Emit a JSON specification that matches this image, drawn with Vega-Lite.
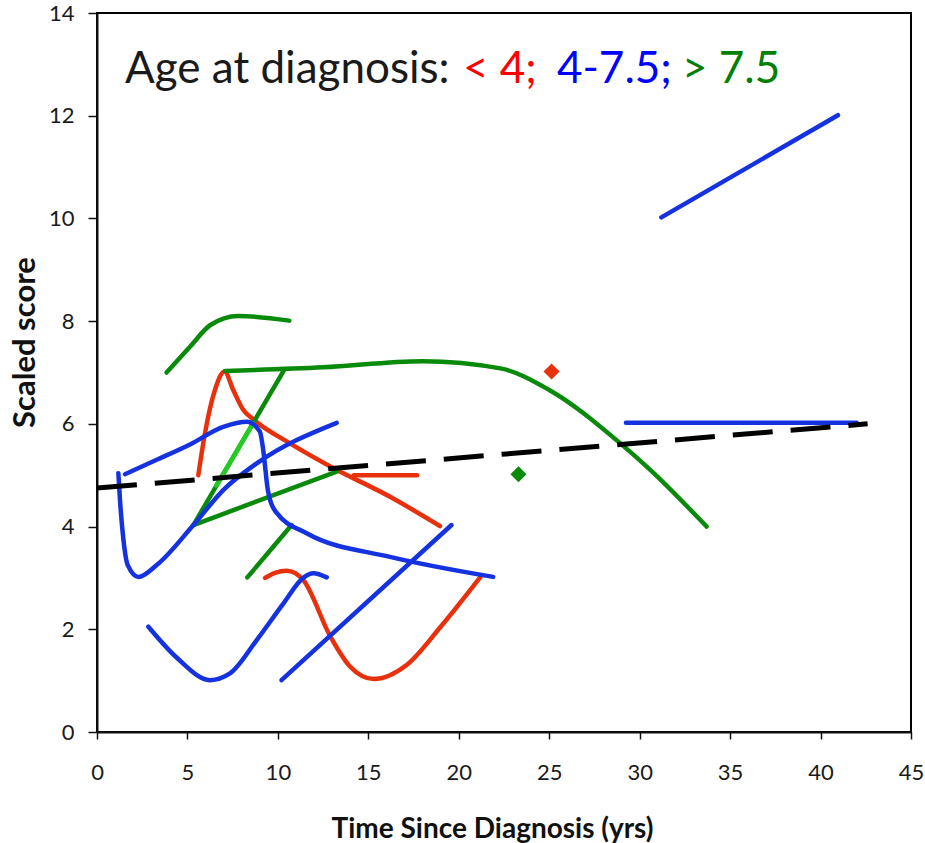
{
  "$schema": "https://vega.github.io/schema/vega-lite/v6.json",
  "width": 814,
  "height": 719,
  "autosize": "none",
  "padding": {"left": 97, "top": 13, "right": 14, "bottom": 111},
  "background": "white",
  "config": {
    "font": "Lato",
    "view": {"stroke": "black", "strokeWidth": 2},
    "axis": {
      "grid": false,
      "domainColor": "#111111",
      "domainWidth": 2,
      "tickColor": "#111111",
      "tickWidth": 1.5,
      "labelColor": "#1a1a1a",
      "labelFont": "Lato",
      "labelFontSize": 22,
      "labelOverlap": false,
      "labelFlush": false,
      "titleFont": "Lato",
      "titleColor": "#111111",
      "titleFontWeight": "bold"
    }
  },
  "datasets": {
    "lines": [
      {"s": "R1", "g": "lt4", "i": 1, "x": 5.6, "y": 5.0},
      {"s": "R1", "g": "lt4", "i": 2, "x": 5.97, "y": 5.82},
      {"s": "R1", "g": "lt4", "i": 3, "x": 6.52, "y": 6.66},
      {"s": "R1", "g": "lt4", "i": 4, "x": 7.05, "y": 7.02},
      {"s": "R1", "g": "lt4", "i": 5, "x": 7.53, "y": 6.66},
      {"s": "R1", "g": "lt4", "i": 6, "x": 8.09, "y": 6.27},
      {"s": "R1", "g": "lt4", "i": 7, "x": 8.6, "y": 6.1},
      {"s": "R1", "g": "lt4", "i": 8, "x": 10.67, "y": 5.62},
      {"s": "R1", "g": "lt4", "i": 9, "x": 12.9, "y": 5.17},
      {"s": "R1", "g": "lt4", "i": 10, "x": 16.2, "y": 4.58},
      {"s": "R1", "g": "lt4", "i": 11, "x": 18.96, "y": 4.01},
      {"s": "R2", "g": "lt4", "i": 12, "x": 14.2, "y": 5.0},
      {"s": "R2", "g": "lt4", "i": 13, "x": 17.7, "y": 5.0},
      {"s": "R3", "g": "lt4", "i": 14, "x": 9.29, "y": 3.0},
      {"s": "R3", "g": "lt4", "i": 15, "x": 9.84, "y": 3.1},
      {"s": "R3", "g": "lt4", "i": 16, "x": 10.5, "y": 3.14},
      {"s": "R3", "g": "lt4", "i": 17, "x": 11.4, "y": 2.96},
      {"s": "R3", "g": "lt4", "i": 18, "x": 12.9, "y": 1.86},
      {"s": "R3", "g": "lt4", "i": 19, "x": 14.0, "y": 1.27},
      {"s": "R3", "g": "lt4", "i": 20, "x": 15.3, "y": 1.03},
      {"s": "R3", "g": "lt4", "i": 21, "x": 17.1, "y": 1.3},
      {"s": "R3", "g": "lt4", "i": 22, "x": 19.0, "y": 2.05},
      {"s": "R3", "g": "lt4", "i": 23, "x": 21.2, "y": 3.02},
      {"s": "G1", "g": "gt75", "i": 25, "x": 3.85, "y": 7.0},
      {"s": "G1", "g": "gt75", "i": 26, "x": 5.14, "y": 7.5},
      {"s": "G1", "g": "gt75", "i": 27, "x": 6.25, "y": 7.92},
      {"s": "G1", "g": "gt75", "i": 28, "x": 7.8, "y": 8.1},
      {"s": "G1", "g": "gt75", "i": 30, "x": 10.63, "y": 8.01},
      {"s": "G2", "g": "gt75", "i": 31, "x": 7.08, "y": 7.03},
      {"s": "G2", "g": "gt75", "i": 32, "x": 12.5, "y": 7.1},
      {"s": "G2", "g": "gt75", "i": 33, "x": 18.0, "y": 7.22},
      {"s": "G2", "g": "gt75", "i": 35, "x": 22.3, "y": 7.08},
      {"s": "G2", "g": "gt75", "i": 36, "x": 25.0, "y": 6.66},
      {"s": "G2", "g": "gt75", "i": 38, "x": 28.9, "y": 5.63},
      {"s": "G2", "g": "gt75", "i": 39, "x": 30.6, "y": 5.1},
      {"s": "G2", "g": "gt75", "i": 41, "x": 33.7, "y": 4.0},
      {"s": "G3", "g": "gt75", "i": 42, "x": 5.33, "y": 4.03},
      {"s": "G3", "g": "gt75", "i": 43, "x": 10.3, "y": 7.02},
      {"s": "G4", "g": "gt75", "i": 44, "x": 5.33, "y": 4.03},
      {"s": "G4", "g": "gt75", "i": 45, "x": 13.25, "y": 5.07},
      {"s": "G5", "g": "gt75", "i": 46, "x": 8.31, "y": 3.01},
      {"s": "G5", "g": "gt75", "i": 47, "x": 10.76, "y": 4.03},
      {"s": "G6", "g": "light", "i": 48, "x": 6.6, "y": 4.8},
      {"s": "G6", "g": "light", "i": 49, "x": 8.64, "y": 6.01},
      {"s": "B1", "g": "mid", "i": 50, "x": 31.2, "y": 10.02},
      {"s": "B1", "g": "mid", "i": 51, "x": 40.96, "y": 12.01},
      {"s": "B2", "g": "mid", "i": 52, "x": 29.24, "y": 6.02},
      {"s": "B2", "g": "mid", "i": 53, "x": 42.0, "y": 6.02},
      {"s": "B3", "g": "mid", "i": 54, "x": 1.18, "y": 5.04},
      {"s": "B3", "g": "mid", "i": 55, "x": 1.27, "y": 4.52},
      {"s": "B3", "g": "mid", "i": 56, "x": 1.46, "y": 3.75},
      {"s": "B3", "g": "mid", "i": 57, "x": 1.7, "y": 3.25},
      {"s": "B3", "g": "mid", "i": 58, "x": 2.29, "y": 3.02},
      {"s": "B3", "g": "mid", "i": 59, "x": 3.3, "y": 3.25},
      {"s": "B3", "g": "mid", "i": 61, "x": 5.33, "y": 4.03},
      {"s": "B3", "g": "mid", "i": 62, "x": 6.98, "y": 4.71},
      {"s": "B3", "g": "mid", "i": 63, "x": 8.83, "y": 5.23},
      {"s": "B3", "g": "mid", "i": 65, "x": 13.25, "y": 6.02},
      {"s": "B4", "g": "mid", "i": 66, "x": 1.55, "y": 5.02},
      {"s": "B4", "g": "mid", "i": 67, "x": 3.3, "y": 5.3},
      {"s": "B4", "g": "mid", "i": 68, "x": 5.14, "y": 5.6},
      {"s": "B4", "g": "mid", "i": 69, "x": 6.98, "y": 5.94},
      {"s": "B4", "g": "mid", "i": 70, "x": 8.3, "y": 6.04},
      {"s": "B4", "g": "mid", "i": 72, "x": 9.0, "y": 5.85},
      {"s": "B4", "g": "mid", "i": 73, "x": 9.19, "y": 5.49},
      {"s": "B4", "g": "mid", "i": 75, "x": 9.45, "y": 4.7},
      {"s": "B4", "g": "mid", "i": 76, "x": 9.9, "y": 4.28},
      {"s": "B4", "g": "mid", "i": 77, "x": 11.59, "y": 3.87},
      {"s": "B4", "g": "mid", "i": 78, "x": 16.2, "y": 3.41},
      {"s": "B4", "g": "mid", "i": 80, "x": 21.9, "y": 3.02},
      {"s": "B5", "g": "mid", "i": 81, "x": 2.84, "y": 2.05},
      {"s": "B5", "g": "mid", "i": 82, "x": 4.4, "y": 1.45},
      {"s": "B5", "g": "mid", "i": 84, "x": 6.25, "y": 1.01},
      {"s": "B5", "g": "mid", "i": 85, "x": 7.35, "y": 1.14},
      {"s": "B5", "g": "mid", "i": 86, "x": 8.83, "y": 1.79},
      {"s": "B5", "g": "mid", "i": 87, "x": 10.3, "y": 2.5},
      {"s": "B5", "g": "mid", "i": 88, "x": 11.4, "y": 3.0},
      {"s": "B5", "g": "mid", "i": 89, "x": 11.96, "y": 3.09},
      {"s": "B5", "g": "mid", "i": 90, "x": 12.7, "y": 3.01},
      {"s": "B6", "g": "mid", "i": 91, "x": 10.2, "y": 1.01},
      {"s": "B6", "g": "mid", "i": 92, "x": 19.6, "y": 4.03}
    ],
    "pts": [
      {"g": "lt4", "x": 25.13, "y": 7.02},
      {"g": "gt75", "x": 23.3, "y": 5.02}
    ],
    "trend": [
      {"x": 0, "y": 4.75},
      {"x": 42.6, "y": 6.0}
    ]
  },
  "layer": [
    {
      "data": {"name": "lines"},
      "mark": {"type": "line", "interpolate": "monotone", "strokeWidth": 4.5, "strokeCap": "round", "strokeJoin": "round"},
      "encoding": {
        "x": {
          "field": "x", "type": "quantitative",
          "scale": {"domain": [0, 45], "nice": false, "zero": false},
          "axis": {
            "values": [0, 5, 10, 15, 20, 25, 30, 35, 40, 45],
            "tickSize": 7,
            "labelPadding": 23,
            "title": "Time Since Diagnosis (yrs)",
            "titleFontSize": 28,
            "titleAlign": "center",
            "titleBaseline": "alphabetic",
            "titleX": 395,
            "titleY": 105
          }
        },
        "y": {
          "field": "y", "type": "quantitative",
          "scale": {"domain": [0, 14], "nice": false, "zero": false},
          "axis": {
            "values": [0, 2, 4, 6, 8, 10, 12, 14],
            "tickSize": 9,
            "labelPadding": 14,
            "title": "Scaled score",
            "titleFontSize": 31,
            "titleAngle": 270,
            "titleAlign": "center",
            "titleBaseline": "alphabetic",
            "titleX": -63,
            "titleY": 329
          }
        },
        "color": {
          "field": "g", "type": "nominal",
          "scale": {"domain": ["lt4", "mid", "gt75", "light"], "range": ["#E8300C", "#1432E0", "#0A8A0A", "#22CC22"]},
          "legend": null
        },
        "detail": {"field": "s"},
        "order": {"field": "i"}
      }
    },
    {
      "data": {"name": "trend"},
      "mark": {"type": "line", "color": "black", "strokeWidth": 5, "strokeDash": [40, 18], "strokeCap": "butt"},
      "encoding": {
        "x": {"field": "x", "type": "quantitative"},
        "y": {"field": "y", "type": "quantitative"}
      }
    },
    {
      "data": {"name": "pts"},
      "mark": {"type": "point", "shape": "diamond", "filled": true, "size": 260, "opacity": 1},
      "encoding": {
        "x": {"field": "x", "type": "quantitative"},
        "y": {"field": "y", "type": "quantitative"},
        "color": {"field": "g", "type": "nominal", "legend": null}
      }
    },
    {
      "data": {"values": [{}]},
      "mark": {"type": "text", "align": "left", "baseline": "alphabetic", "fontSize": 44, "font": "Lato", "color": "#1a1a1a"},
      "encoding": {
        "x": {"datum": 1.55, "type": "quantitative"},
        "y": {"datum": 12.64, "type": "quantitative"},
        "text": {"value": "Age at diagnosis:"}
      }
    },
    {
      "data": {"values": [{}]},
      "mark": {"type": "text", "align": "left", "baseline": "alphabetic", "fontSize": 44, "font": "Lato", "color": "#FF0000"},
      "encoding": {
        "x": {"datum": 20.23, "type": "quantitative"},
        "y": {"datum": 12.64, "type": "quantitative"},
        "text": {"value": "< 4;"}
      }
    },
    {
      "data": {"values": [{}]},
      "mark": {"type": "text", "align": "left", "baseline": "alphabetic", "fontSize": 44, "font": "Lato", "color": "#0000FF"},
      "encoding": {
        "x": {"datum": 25.43, "type": "quantitative"},
        "y": {"datum": 12.64, "type": "quantitative"},
        "text": {"value": "4-7.5;"}
      }
    },
    {
      "data": {"values": [{}]},
      "mark": {"type": "text", "align": "left", "baseline": "alphabetic", "fontSize": 44, "font": "Lato", "color": "#008000"},
      "encoding": {
        "x": {"datum": 32.34, "type": "quantitative"},
        "y": {"datum": 12.64, "type": "quantitative"},
        "text": {"value": "> 7.5"}
      }
    }
  ]
}
